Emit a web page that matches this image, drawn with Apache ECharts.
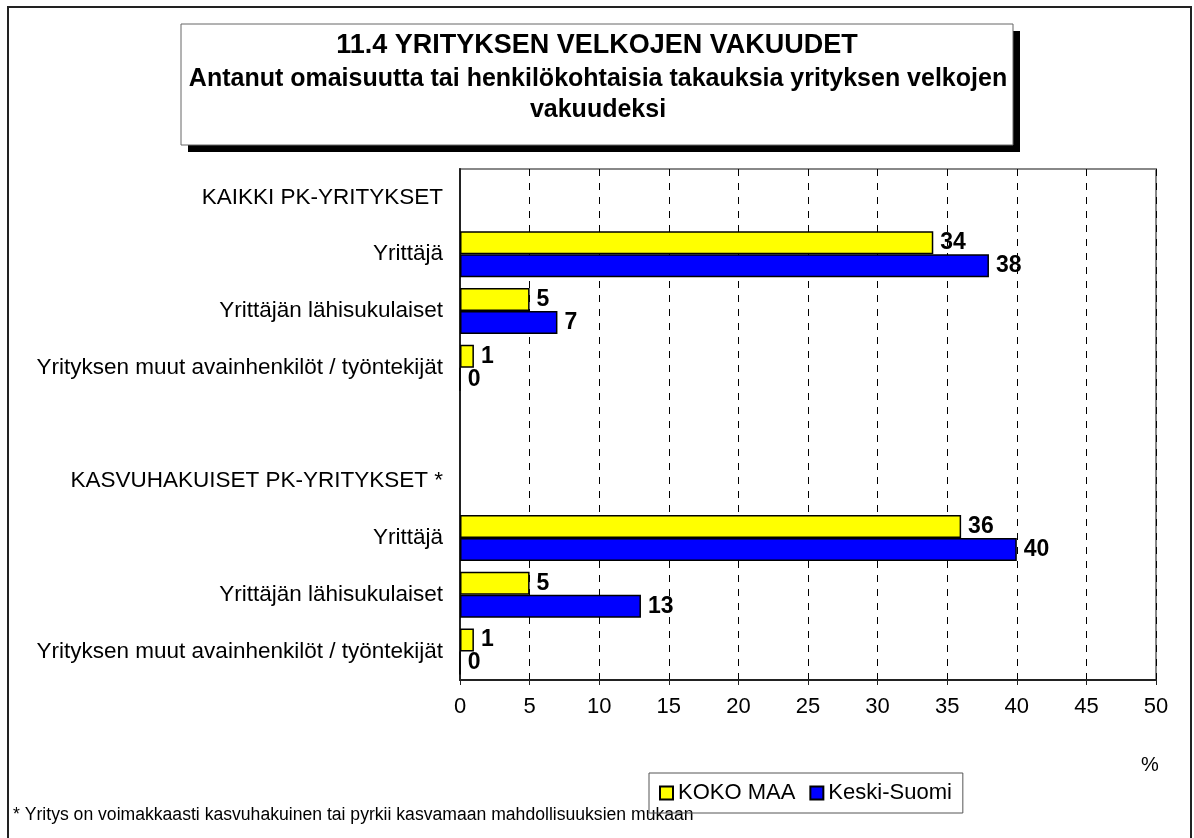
<!DOCTYPE html>
<html>
<head>
<meta charset="utf-8">
<script src="https://cdn.jsdelivr.net/npm/echarts@6/dist/echarts.min.js"></script>
<style>
  html, body { margin: 0; padding: 0; background: #fff; }
  #chart { width: 1194px; height: 838px; }
</style>
</head>
<body>
<div id="chart"></div>
<script>
var categories = [
    'KAIKKI PK-YRITYKSET',
    'Yrittäjä',
    'Yrittäjän lähisukulaiset',
    'Yrityksen muut avainhenkilöt / työntekijät',
    '',
    'KASVUHAKUISET PK-YRITYKSET *',
    'Yrittäjä',
    'Yrittäjän lähisukulaiset',
    'Yrityksen muut avainhenkilöt / työntekijät'
];
var kokoMaa = ['-', 34, 5, 1, '-', '-', 36, 5, 1];
var keskiSuomi = ['-', 38, 7, 0, '-', '-', 40, 13, 0];
var seriesNames = ['KOKO MAA', 'Keski-Suomi'];

var font = 'Liberation Sans, Arial, sans-serif';

var chart = echarts.init(document.getElementById('chart'));

var labelStyle = {
    show: true,
    position: 'right',
    distance: 7,
    color: '#000',
    fontFamily: font,
    fontWeight: 'bold',
    fontSize: 23
};

var option = {
    animation: false,
    backgroundColor: '#fff',
    textStyle: { fontFamily: font },
    graphic: [
        // ulkokehys
        { type: 'rect', shape: { x: 8, y: 7, width: 1183, height: 840 },
          style: { fill: 'none', stroke: '#222', lineWidth: 2 }, z: -10 },
        // otsikkolaatikko + varjo
        { type: 'rect', shape: { x: 188, y: 31, width: 832, height: 121 },
          style: { fill: '#000' }, z: 1 },
        { type: 'rect', shape: { x: 181, y: 24, width: 832, height: 121 },
          style: { fill: '#fff', stroke: '#666', lineWidth: 1 }, z: 2 },
        { type: 'text', x: 597, y: 46, z: 3,
          style: { text: '11.4 YRITYKSEN VELKOJEN VAKUUDET', align: 'center', verticalAlign: 'middle',
                   font: 'bold 27px ' + font, fill: '#000' } },
        { type: 'text', x: 598, y: 79, z: 3,
          style: { text: 'Antanut omaisuutta tai henkilökohtaisia takauksia yrityksen velkojen', align: 'center', verticalAlign: 'middle',
                   font: 'bold 25px ' + font, fill: '#000' } },
        { type: 'text', x: 598, y: 110, z: 3,
          style: { text: 'vakuudeksi', align: 'center', verticalAlign: 'middle',
                   font: 'bold 25px ' + font, fill: '#000' } },
        { type: 'text', x: 1150, y: 765, z: 3,
          style: { text: '%', align: 'center', verticalAlign: 'middle', font: '20px ' + font, fill: '#000' } },
        { type: 'text', x: 13, y: 815, z: 3,
          style: { text: '* Yritys on voimakkaasti kasvuhakuinen tai pyrkii kasvamaan mahdollisuuksien mukaan',
                   align: 'left', verticalAlign: 'middle', font: '17.6px ' + font, fill: '#000' } }
    ],
    legend: {
        data: seriesNames,
        left: 649,
        top: 773,
        orient: 'horizontal',
        icon: 'rect',
        itemWidth: 13,
        itemHeight: 13,
        itemGap: 14,
        padding: [9, 11, 9, 10],
        borderColor: '#555',
        borderWidth: 1,
        textStyle: { color: '#000', fontSize: 22, fontFamily: font }
    },
    grid: {
        left: 460,
        right: 38,
        top: 169,
        bottom: 158,
        show: true,
        borderColor: '#888',
        borderWidth: 2,
        containLabel: false
    },
    xAxis: {
        type: 'value',
        min: 0,
        max: 50,
        interval: 5,
        axisLine: { show: true, lineStyle: { color: '#222', width: 2 } },
        axisTick: { show: true, length: 5, lineStyle: { color: '#222' } },
        axisLabel: { color: '#000', fontSize: 22, margin: 16, fontFamily: font },
        splitLine: { show: true, lineStyle: { color: '#000', type: [7, 7], width: 1 } }
    },
    yAxis: {
        type: 'category',
        inverse: true,
        data: categories,
        axisLine: { show: true, lineStyle: { color: '#222', width: 2 } },
        axisTick: { show: false },
        axisLabel: { color: '#000', fontSize: 22.5, margin: 17, fontFamily: font, interval: 0 },
        splitLine: { show: false }
    },
    series: [
        {
            name: seriesNames[0],
            type: 'bar',
            data: kokoMaa,
            barWidth: 23,
            barGap: '0%',
            itemStyle: { color: '#ffff00', borderColor: '#000', borderWidth: 1.5 },
            label: labelStyle
        },
        {
            name: seriesNames[1],
            type: 'bar',
            data: keskiSuomi,
            barWidth: 23,
            barGap: '0%',
            itemStyle: { color: '#0000ff', borderColor: '#000', borderWidth: 1.5 },
            label: labelStyle
        }
    ]
};

chart.setOption(option);
</script>
</body>
</html>
